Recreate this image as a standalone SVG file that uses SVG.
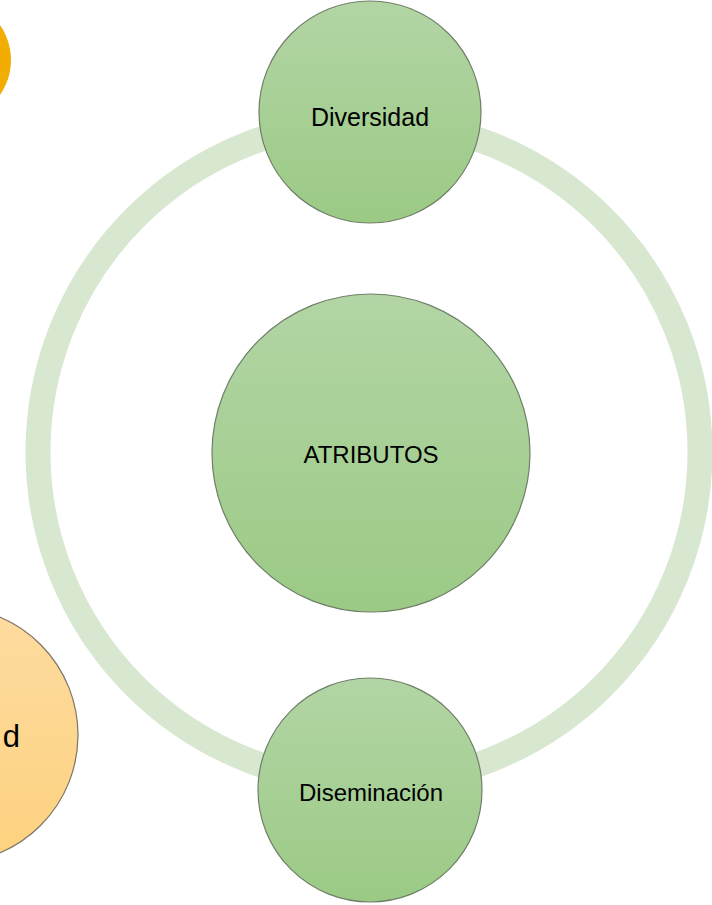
<svg xmlns="http://www.w3.org/2000/svg" width="712" height="905" viewBox="0 0 712 905">
<defs>
<linearGradient id="g" x1="0" y1="0" x2="0" y2="1">
<stop offset="0" stop-color="#B3D5A5"/>
<stop offset="1" stop-color="#9BCA85"/>
</linearGradient>
<linearGradient id="o" x1="0" y1="0" x2="0" y2="1">
<stop offset="0" stop-color="#FEDBA0"/>
<stop offset="1" stop-color="#FDD27F"/>
</linearGradient>
<style>
.node{fill:url(#g);stroke:#6f7f68;stroke-width:1.2}
.lbl{font-family:"Liberation Sans",Arial,sans-serif;fill:#000;text-anchor:middle}
</style>
</defs>
<rect width="712" height="905" fill="#fff"/>
<g id="connectors">
<circle cx="369" cy="452" r="331" fill="none" stroke="#D8E8D0" stroke-width="25"/>
</g>
<g id="orange-top">
<circle cx="-50" cy="60" r="61" fill="#F1AD00"/>
</g>
<g id="orange-bottom">
<circle cx="-50" cy="735" r="128" fill="url(#o)" stroke="#7d7565" stroke-width="1.2"/>
<text x="20" y="747" font-family="Liberation Sans, Arial, sans-serif" font-size="31" text-anchor="end">d</text>
</g>
<g id="diversidad">
<circle class="node" cx="370" cy="112" r="111"/>
<text class="lbl" x="370" y="126" font-size="25">Diversidad</text>
</g>
<g id="atributos">
<circle class="node" cx="371" cy="453" r="159"/>
<text class="lbl" x="371" y="463" font-size="24">ATRIBUTOS</text>
</g>
<g id="diseminacion">
<circle class="node" cx="370" cy="790" r="112"/>
<text class="lbl" x="371" y="801" font-size="24">Diseminación</text>
</g>
</svg>
